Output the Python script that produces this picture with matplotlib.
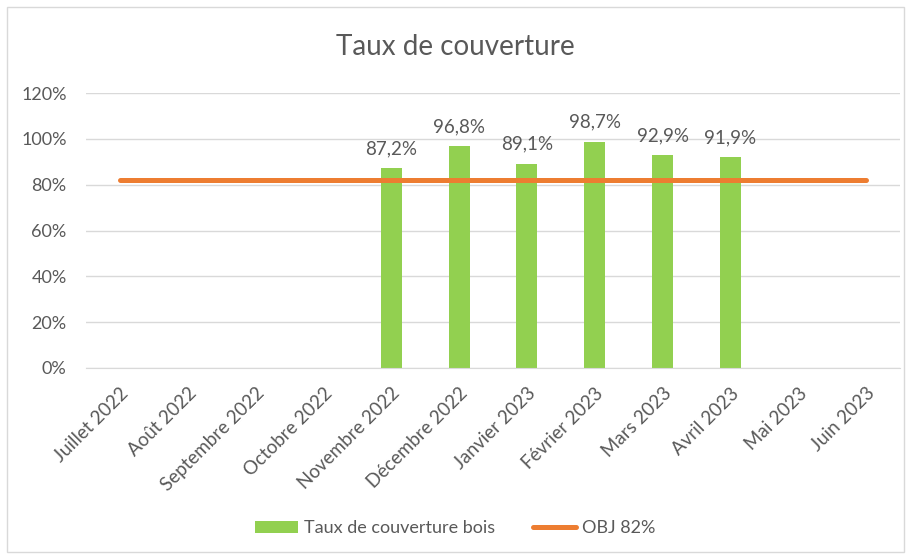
import matplotlib.pyplot as plt
import numpy as np
from matplotlib.patches import Rectangle

# Données
mois = ["Juillet 2022", "Août 2022", "Septembre 2022", "Octobre 2022",
        "Novembre 2022", "Décembre 2022", "Janvier 2023", "Février 2023",
        "Mars 2023", "Avril 2023", "Mai 2023", "Juin 2023"]
taux_bois = [np.nan, np.nan, np.nan, np.nan, 87.2, 96.8, 89.1, 98.7, 92.9, 91.9, np.nan, np.nan]
objectif = [82] * 12

plt.rcParams['font.family'] = ['Lato', 'DejaVu Sans']
gris = "#595959"

fig = plt.figure(figsize=(9.1, 5.59), dpi=100)
ax = fig.add_axes([0.0945, 0.3417, 0.8945, 0.4919])

x = np.arange(len(mois))
valeurs = np.array(taux_bois) / 100
barres = ax.bar(x, valeurs, width=0.31, color="#92D050", label="Taux de couverture bois", zorder=2)
ligne, = ax.plot(x, np.array(objectif) / 100, color="#ED7D31", linewidth=3.6,
                 solid_capstyle="round", label="OBJ 82%", zorder=3)

# Étiquettes de valeurs
for i, v in enumerate(taux_bois):
    if not np.isnan(v):
        ax.annotate(f"{v:.1f}%".replace(".", ","), (i, v / 100), xytext=(0, 8),
                    textcoords="offset points", ha="center", va="bottom",
                    fontsize=13.5, color=gris)

ax.set_xlim(-0.5, len(mois) - 0.5)
ax.set_ylim(0, 1.2)
ax.set_yticks(np.arange(0, 1.21, 0.2))
ax.set_yticklabels([f"{int(round(t * 100))}%" for t in np.arange(0, 1.21, 0.2)])
ax.set_xticks(x)
ax.set_xticklabels(mois, rotation=45, ha="right", rotation_mode="anchor")

ax.grid(axis="y", color="#D9D9D9", linewidth=1, zorder=0)
ax.set_axisbelow(True)
for s in ["top", "right", "left"]:
    ax.spines[s].set_visible(False)
ax.spines["bottom"].set_color("#D9D9D9")
ax.tick_params(axis="both", length=0, colors=gris, labelsize=13)
ax.tick_params(axis="x", pad=12, labelsize=13.5)
ax.tick_params(axis="y", pad=14)

fig.text(0.5, 0.916, "Taux de couverture", ha="center", va="center",
         fontsize=20, color=gris)

fig.legend([barres, ligne], ["Taux de couverture bois", "OBJ 82%"],
           loc="center", bbox_to_anchor=(0.5, 0.055), ncol=2, frameon=False,
           fontsize=13, labelcolor=gris, handlelength=2.4, columnspacing=2.1,
           handletextpad=0.3)

# Cadre du graphique
fig.patches.append(Rectangle((0.008, 0.012), 0.985, 0.975, transform=fig.transFigure,
                             fill=False, edgecolor="#D9D9D9", linewidth=1))

fig.savefig("out.png", dpi=100)
